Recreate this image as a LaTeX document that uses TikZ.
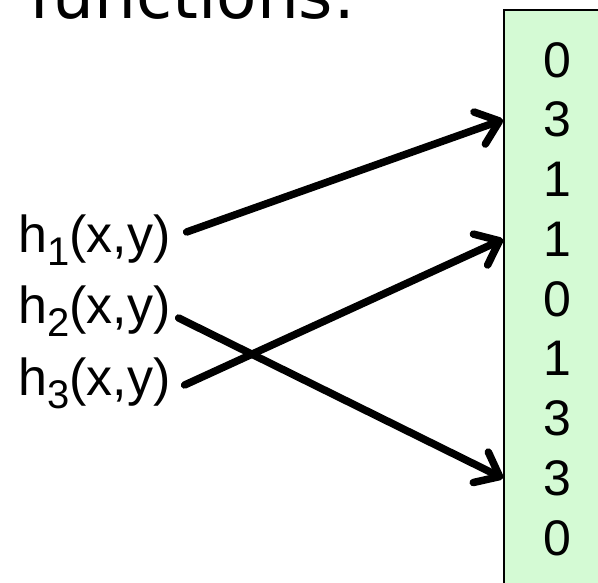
\documentclass[tikz,border=0pt]{standalone}
\usepackage{fontspec}
\setmainfont{Liberation Sans}
\newfontfamily\titlefont{DejaVu Sans}
\usetikzlibrary{arrows.meta}
\definecolor{cellgreen}{RGB}{212,250,212}
\newcommand{\hsub}[1]{\raisebox{-13pt}{\fontsize{40}{40}\selectfont #1}}
\begin{document}
\begin{tikzpicture}[x=1pt,y=-1pt,
  hlabel/.style={font=\fontsize{52}{60}\selectfont,inner sep=0pt,anchor=base west},
  digit/.style={font=\fontsize{50}{60}\selectfont,inner sep=0pt},
  hash/.style={line width=7.5pt,line cap=round,-{Straight Barb[length=21pt,width=34pt,round]}}]
\useasboundingbox (0,0) rectangle (598,582);
% title, cut off at the top edge
\node[font=\titlefont\fontsize{66}{70}\selectfont,inner sep=0pt,anchor=base west] (title) at (29,18) {functions:};
% the array
\node[draw=black,line width=2pt,fill=cellgreen,anchor=north west,minimum width=160pt,minimum height=640pt] (vec) at (503,9) {};
\foreach \v [count=\i] in {0,3,1,1,0,1,3,3,0}
  \node[digit] (d\i) at (557,{60+59.75*(\i-1)}) {\v};
% hash functions
\node[hlabel] (h1) at (18,252) {h\hsub{1}(x,y)};
\node[hlabel] (h2) at (18,323) {h\hsub{2}(x,y)};
\node[hlabel] (h3) at (18,395) {h\hsub{3}(x,y)};
\draw[hash] ([xshift=16pt,yshift=20pt]h1.base east) -- (vec.west |- d2);
\draw[hash] ([xshift=8pt,yshift=5pt]h2.base east) -- (vec.west |- d8);
\draw[hash] ([xshift=14pt,yshift=10pt]h3.base east) -- (vec.west |- d4);
\end{tikzpicture}
\end{document}
